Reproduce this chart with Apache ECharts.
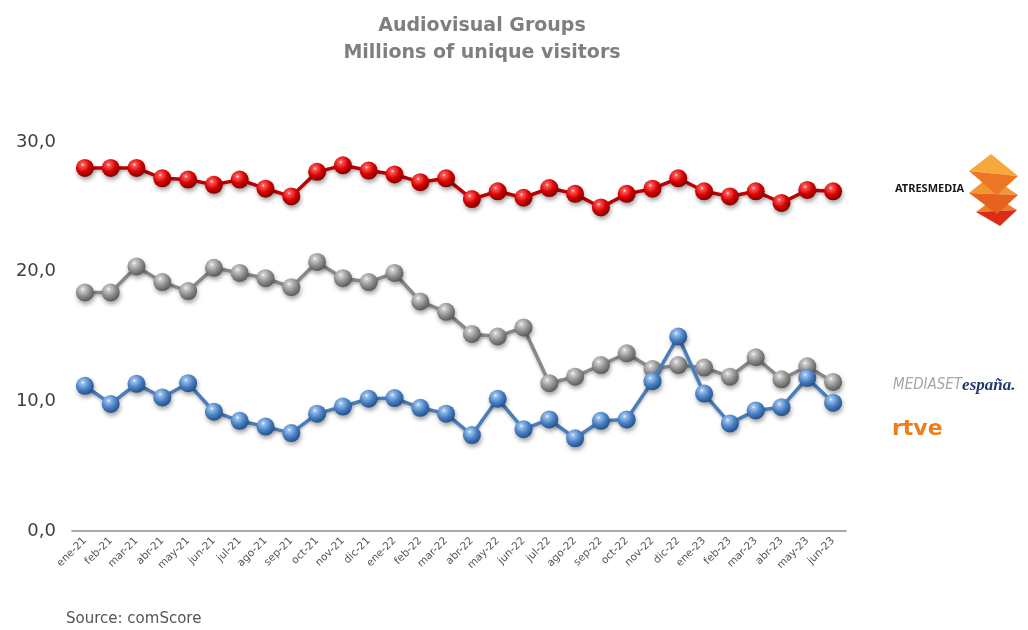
<!DOCTYPE html>
<html>
<head>
<meta charset="utf-8">
<script src="https://cdn.jsdelivr.net/npm/echarts@6/dist/echarts.min.js"></script>
<style>
  html, body { margin: 0; padding: 0; background: #ffffff; }
  #chart { width: 1028px; height: 630px; }
</style>
</head>
<body>
<div id="chart"></div>
<script>
// months on the x axis
const months = ["ene-21","feb-21","mar-21","abr-21","may-21","jun-21","jul-21","ago-21","sep-21","oct-21","nov-21","dic-21",
  "ene-22","feb-22","mar-22","abr-22","may-22","jun-22","jul-22","ago-22","sep-22","oct-22","nov-22","dic-22",
  "ene-23","feb-23","mar-23","abr-23","may-23","jun-23"];

// millions of unique visitors
const atresmedia = [28.0, 28.0, 28.0, 27.2, 27.1, 26.7, 27.1, 26.4, 25.8, 27.7, 28.2, 27.8,
  27.5, 26.9, 27.2, 25.6, 26.2, 25.7, 26.45, 26.0, 24.95, 26.0, 26.4, 27.2,
  26.2, 25.8, 26.2, 25.3, 26.3, 26.2];
const mediaset = [18.4, 18.4, 20.4, 19.2, 18.5, 20.3, 19.9, 19.5, 18.8, 20.75, 19.5, 19.2,
  19.9, 17.7, 16.9, 15.2, 15.0, 15.7, 11.4, 11.9, 12.8, 13.7, 12.5, 12.8,
  12.6, 11.9, 13.4, 11.7, 12.7, 11.5];
const rtve = [11.2, 9.8, 11.35, 10.3, 11.4, 9.2, 8.5, 8.05, 7.55, 9.05, 9.6, 10.2,
  10.25, 9.5, 9.05, 7.4, 10.2, 7.85, 8.6, 7.15, 8.5, 8.6, 11.55, 15.0,
  10.6, 8.3, 9.3, 9.55, 11.8, 9.9];

const yTicks = [0, 10, 20, 30];

const FONT = '"DejaVu Sans", sans-serif';

// glossy ball look for the markers
function ball(light, mid, dark) {
  return {
    type: 'radial', x: 0.38, y: 0.32, r: 0.72,
    colorStops: [
      { offset: 0, color: '#ffffff' },
      { offset: 0.12, color: light },
      { offset: 0.55, color: mid },
      { offset: 1, color: dark }
    ]
  };
}

function lineSeries(name, data, lineColor, fill, z) {
  return {
    name: name,
    type: 'line',
    data: data,
    z: z,
    symbol: 'circle',
    symbolSize: 18,
    lineStyle: {
      color: lineColor, width: 3.5,
      shadowColor: 'rgba(0,0,0,0.25)', shadowBlur: 3, shadowOffsetY: 2
    },
    itemStyle: {
      color: fill,
      shadowColor: 'rgba(0,0,0,0.35)', shadowBlur: 4, shadowOffsetX: 1, shadowOffsetY: 3
    },
    emphasis: { disabled: true }
  };
}

// one block of the atresmedia logo: light upper half, darker lower half
function block(l, t, r, b, up, low) {
  return [
    { type: 'polygon', shape: { points: [l, t, r] }, style: { fill: up } },
    { type: 'polygon', shape: { points: [l, r, b] }, style: { fill: low } }
  ];
}

const chart = echarts.init(document.getElementById('chart'));

chart.setOption({
  backgroundColor: '#ffffff',
  animation: false,
  title: {
    text: 'Audiovisual Groups\nMillions of unique visitors',
    left: 477,
    top: 8,
    textAlign: 'center',
    textStyle: {
      fontFamily: FONT, fontWeight: 'bold', fontSize: 19,
      color: '#7f7f7f', lineHeight: 27
    }
  },
  grid: { left: 72, right: 182, top: 142, bottom: 99, containLabel: false },
  xAxis: {
    type: 'category',
    data: months,
    boundaryGap: true,
    axisLine: { lineStyle: { color: '#8c8c8c', width: 1.5 } },
    axisTick: { show: false },
    axisLabel: {
      rotate: 45, interval: 0, margin: 8,
      fontFamily: FONT, fontSize: 10.5, color: '#555555'
    },
    splitLine: { show: false }
  },
  yAxis: {
    type: 'value',
    min: yTicks[0],
    max: yTicks[yTicks.length - 1],
    interval: 10,
    axisLine: { show: false },
    axisTick: { show: false },
    splitLine: { show: false },
    axisLabel: {
      margin: 16,
      fontFamily: FONT, fontSize: 18, color: '#404040',
      formatter: v => v.toFixed(1).replace('.', ',')
    }
  },
  series: [
    lineSeries('Atresmedia', atresmedia, '#c00000', ball('#ff5a5a', '#d80000', '#7a0000'), 3),
    lineSeries('Mediaset España', mediaset, '#888888', ball('#d0d0d0', '#8f8f8f', '#555555'), 2),
    lineSeries('RTVE', rtve, '#4a7ebb', ball('#9cc3ee', '#4a80c4', '#1f4c87'), 4)
  ],
  graphic: [
    {
      type: 'text', left: 66, top: 612,
      style: { text: 'Source: comScore', font: '15px ' + FONT, fill: '#555555' }
    },
    // ATRESMEDIA logo
    {
      type: 'text', left: 895, top: 183,
      style: { text: 'ATRESMEDIA', font: 'bold 11px "Noto Sans", sans-serif', fill: '#1a1a1a' }
    },
    ...block([976, 212], [996, 197], [1017, 210], [1000, 226], '#ef7d28', '#dc2c18'),
    ...block([969, 193], [990, 176], [1018, 195], [997, 214], '#f49530', '#e6601f'),
    ...block([969, 171], [991, 154], [1018, 176], [997, 195], '#f7a83c', '#ec7624'),
    // MEDIASET españa logo
    {
      type: 'text', left: 893, top: 377,
      style: {
        text: '{a|MEDIASET}{b|españa.}',
        rich: {
          a: { font: 'italic 15px "Liberation Sans Narrow", "DejaVu Sans Condensed", sans-serif', fill: '#a6a6a6' },
          b: { font: 'italic bold 17px "Liberation Serif", serif', fill: '#1f3a70' }
        }
      }
    },
    // rtve logo
    {
      type: 'text', left: 892, top: 418,
      style: { text: 'rtve', font: 'bold 22px ' + FONT, fill: '#f07c1a' }
    }
  ]
});
</script>
</body>
</html>
